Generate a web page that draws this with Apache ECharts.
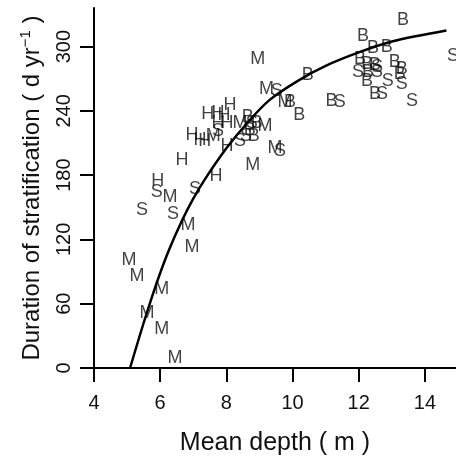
<!DOCTYPE html>
<html>
<head>
<meta charset="utf-8">
<script src="https://cdn.jsdelivr.net/npm/echarts@6/dist/echarts.min.js"></script>
<style>
html,body{margin:0;padding:0;background:#fff;}
#chart{width:456px;height:461px;}
</style>
</head>
<body>
<div id="chart"></div>
<script>
// X tick labels and Y tick labels
const xTicks = [4, 6, 8, 10, 12, 14];
const yTicks = [0, 60, 120, 180, 240, 300];

// H points
const hX = [7.44, 7.75, 7.93, 8.11, 7.75, 8.02, 6.96, 7.20, 7.35, 8.02, 6.66, 7.69, 5.93];
const hY = [237.4, 238.3, 236.5, 245.7, 228.2, 228.2, 217.2, 212.6, 211.7, 207.0, 194.2, 179.4, 174.8];

// M points
const mX = [8.95, 9.21, 9.77, 8.41, 9.17, 7.60, 9.47, 8.80, 6.30, 6.84, 6.96, 5.06, 5.30, 6.05, 5.60, 6.05, 6.45];
const mY = [288.0, 260.4, 248.2, 228.2, 225.5, 216.3, 205.2, 189.6, 159.2, 133.4, 113.2, 101.2, 85.6, 73.6, 51.5, 36.8, 9.2];

// S points
const sX = [9.52, 11.43, 8.77, 7.75, 8.59, 8.41, 9.62, 5.90, 5.45, 6.39, 7.05, 14.85, 12.55, 11.98, 12.55, 12.88, 13.30, 12.70, 13.61];
const sY = [258.9, 248.2, 228.2, 220.9, 216.3, 211.7, 202.2, 163.8, 147.2, 143.6, 166.6, 291.1, 280.7, 276.0, 276.0, 267.8, 265.0, 255.8, 249.4];

// B points
const bX = [13.34, 12.13, 12.43, 12.85, 10.46, 9.92, 10.20, 11.18, 12.04, 12.25, 12.49, 12.28, 12.25, 13.09, 13.30, 13.24, 12.49, 8.65, 8.92, 8.71, 8.83];
const bY = [324.8, 310.1, 298.2, 300.0, 273.3, 248.2, 236.5, 249.6, 288.0, 283.4, 282.5, 276.0, 267.8, 285.3, 278.8, 274.3, 255.8, 234.7, 228.2, 221.8, 216.3];

// fitted curve
const curveX = [5.09, 5.5, 5.89, 6.25, 6.65, 7.0, 7.35, 8.0, 8.61, 9.3, 10.16, 11.0, 12.04, 13.03, 14.65];
const curveY = [0, 42, 79, 109, 137, 158, 176, 205, 228, 250, 268, 282, 295, 305, 315];

const FONT = '"Liberation Sans", Arial, Helvetica, sans-serif';
const TXT = '#000';

function zip(xs, ys) { return xs.map((x, i) => [x, ys[i]]); }

function letterSeries(letter, xs, ys) {
  return {
    type: 'scatter',
    data: zip(xs, ys),
    symbol: 'circle',
    symbolSize: 1,
    itemStyle: { color: 'rgba(0,0,0,0)' },
    silent: true,
    z: 3,
    label: {
      show: true,
      position: 'inside',
      formatter: letter,
      fontSize: 18,
      fontFamily: FONT,
      color: '#111',
      align: 'center',
      verticalAlign: 'middle'
    }
  };
}

const chart = echarts.init(document.getElementById('chart'), null, { renderer: 'canvas' });
chart.setOption({
  animation: false,
  backgroundColor: '#fff',
  grid: { left: 94, right: 0, top: 8, bottom: 88, containLabel: false },
  xAxis: {
    type: 'value',
    min: 4, max: 14.94, interval: 2,
    name: 'Mean depth ( m )',
    nameLocation: 'middle',
    nameGap: 63,
    nameTextStyle: { fontSize: 25, fontFamily: FONT, color: '#111' },
    axisLine: { show: true, onZero: false, lineStyle: { color: '#000', width: 2 } },
    axisTick: { show: true, inside: false, length: 14, lineStyle: { color: '#000', width: 2 }, customValues: xTicks },
    axisLabel: { show: true, margin: 25, fontSize: 20, fontFamily: FONT, color: '#111', customValues: xTicks },
    splitLine: { show: false }
  },
  yAxis: {
    type: 'value',
    min: 0, max: 336, interval: 60,
    name: '{a|Duration of stratification ( d yr}{s|−1}{a| )}',
    nameLocation: 'middle',
    nameRotate: 90,
    nameGap: 48,
    nameTextStyle: {
      fontSize: 24, fontFamily: FONT, color: '#111',
      rich: {
        a: { fontSize: 24, fontFamily: FONT, color: '#111', lineHeight: 28 },
        s: { fontSize: 15, fontFamily: FONT, color: '#111', verticalAlign: 'top', lineHeight: 28 }
      }
    },
    axisLine: { show: true, onZero: false, lineStyle: { color: '#000', width: 2 } },
    axisTick: { show: true, inside: false, length: 14, lineStyle: { color: '#000', width: 2 }, customValues: yTicks },
    axisLabel: { show: true, rotate: 90, margin: 20, fontSize: 20, fontFamily: FONT, color: '#111', customValues: yTicks },
    splitLine: { show: false }
  },
  series: [
    {
      type: 'line',
      data: zip(curveX, curveY),
      smooth: 0.3,
      showSymbol: false,
      symbol: 'none',
      lineStyle: { color: '#000', width: 2.5 },
      z: 4,
      silent: true
    },
    letterSeries('H', hX, hY),
    letterSeries('M', mX, mY),
    letterSeries('S', sX, sY),
    letterSeries('B', bX, bY)
  ]
});
</script>
</body>
</html>
